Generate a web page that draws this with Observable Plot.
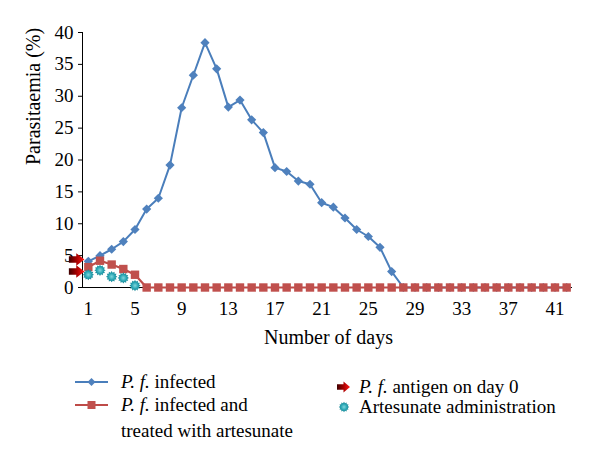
<!DOCTYPE html>
<html>
<head>
<meta charset="utf-8">
<script src="https://cdn.jsdelivr.net/npm/d3@7"></script>
<script src="https://cdn.jsdelivr.net/npm/@observablehq/plot@0.6"></script>
<style>
  html, body { margin: 0; padding: 0; background: #fff; }
  #wrap { position: relative; width: 600px; height: 466px; font-family: "Liberation Serif", "DejaVu Serif", serif; color: #000; }
  .lg { position: absolute; font-family: "Liberation Serif", "DejaVu Serif", serif; font-size: 19px; line-height: 20px; white-space: nowrap; }
  .ic { position: absolute; }
</style>
</head>
<body>
<div id="wrap"></div>
<script>
// ---- data ----
const days = [1,2,3,4,5,6,7,8,9,10,11,12,13,14,15,16,17,18,19,20,21,22,23,24,25,26,27,28,29,30,31,32,33,34,35,36,37,38,39,40,41,42];
const infected = [4.1,5.0,6.0,7.2,9.1,12.3,14.0,19.2,28.2,33.3,38.4,34.3,28.3,29.4,26.3,24.3,18.8,18.2,16.7,16.2,13.3,12.6,10.9,9.1,8.0,6.3,2.5,0,0,0,0,0,0,0,0,0,0,0,0,0,0,0];
const treated = [3.2,4.2,3.6,2.9,2.0,0,0,0,0,0,0,0,0,0,0,0,0,0,0,0,0,0,0,0,0,0,0,0,0,0,0,0,0,0,0,0,0,0,0,0,0,0];
const artesunateDays = [1,2,3,4,5];
const artesunateValues = [2.0,2.7,1.7,1.5,0.3];
const antigenDays = [0,0];
const antigenValues = [4.4,2.5];
const xTicks = [1,5,9,13,17,21,25,29,33,37,41];
const yTicks = [0,5,10,15,20,25,30,35,40];
const seriesNames = ["infected", "infected and", "treated with artesunate", "antigen on day 0", "Artesunate administration"];

const blueData = days.map((d, i) => ({day: d, value: infected[i]}));
const redData = days.map((d, i) => ({day: d, value: treated[i]}));
const tealData = artesunateDays.map((d, i) => ({day: d, value: artesunateValues[i]}));
const arrowData = antigenDays.map((d, i) => ({day: d, value: antigenValues[i]}));

// ---- custom symbols ----
const rad = s => Math.sqrt(s / Math.PI);
const diamondSym = {draw(c, s) { const r = rad(s); c.moveTo(0, -r); c.lineTo(r, 0); c.lineTo(0, r); c.lineTo(-r, 0); c.closePath(); }};
const squareSym = {draw(c, s) { const r = rad(s); c.rect(-r, -r, 2 * r, 2 * r); }};
const starSym = {draw(c, s) {
  const r = rad(s), n = 12, ri = r * 0.74;
  for (let k = 0; k < 2 * n; k++) {
    const a = Math.PI * k / n, rr = k % 2 ? ri : r;
    const px = rr * Math.sin(a), py = -rr * Math.cos(a);
    if (k === 0) c.moveTo(px, py); else c.lineTo(px, py);
  }
  c.closePath();
}};
const arrowSym = {draw(c, s) {
  const r = rad(s);
  c.moveTo(-r, -0.42 * r); c.lineTo(-0.05 * r, -0.42 * r); c.lineTo(-0.05 * r, -0.8 * r);
  c.lineTo(r, 0);
  c.lineTo(-0.05 * r, 0.8 * r); c.lineTo(-0.05 * r, 0.42 * r); c.lineTo(-r, 0.42 * r); c.closePath();
}};

const BLUE = "#4F81BD", BLUE_LINE = "#4A7EBB", RED = "#C0504D", RED_LINE = "#BE4B48";
const FONT = "'Liberation Serif', 'DejaVu Serif', serif";

const chart = Plot.plot({
  width: 600,
  height: 360,
  marginLeft: 82,
  marginRight: 28,
  marginTop: 32,
  marginBottom: 73,
  x: {domain: [0.5, 42.5], axis: null},
  y: {domain: [0, 40], axis: null},
  style: {fontFamily: FONT, color: "#000", background: "#fff"},
  marks: [
    Plot.axisY({ticks: yTicks, tickSize: 4, tickPadding: 5, fontSize: 19, label: null, stroke: "#000"}),
    Plot.axisX({ticks: xTicks, tickSize: 0, tickPadding: 14, fontSize: 19, label: null}),
    Plot.ruleX([0.5], {stroke: "#000", strokeWidth: 1}),
    Plot.ruleY([0], {stroke: "#000", strokeWidth: 1}),
    Plot.line(blueData, {x: "day", y: "value", stroke: BLUE_LINE, strokeWidth: 2}),
    Plot.dot(blueData, {x: "day", y: "value", symbol: diamondSym, r: 4.6, fill: BLUE, stroke: "none"}),
    Plot.line(redData, {x: "day", y: "value", stroke: RED_LINE, strokeWidth: 2.2}),
    Plot.dot(redData, {x: "day", y: "value", symbol: squareSym, r: 4.2, fill: RED, stroke: "none"}),
    Plot.dot(tealData, {x: "day", y: "value", symbol: starSym, r: 5.6, fill: "url(#tealGrad)", stroke: "none"}),
    Plot.dot(arrowData, {x: "day", y: "value", symbol: arrowSym, r: 7.8, fill: "url(#arrowGrad)", stroke: "none"}),
    Plot.text(["Parasitaemia (%)"], {frameAnchor: "left", rotate: -90, dx: -49, dy: 5, fontSize: 20, fill: "#000"}),
    Plot.text(["Number of days"], {frameAnchor: "bottom", dy: 56, dx: 1, fontSize: 20, fill: "#000"})
  ]
});

const defs = d3.select(chart).insert("defs", ":first-child");
const lg = defs.append("linearGradient").attr("id", "arrowGrad").attr("x1", 0).attr("x2", 1).attr("y1", 0).attr("y2", 0);
lg.append("stop").attr("offset", 0).attr("stop-color", "#3d0000");
lg.append("stop").attr("offset", 0.5).attr("stop-color", "#a80000");
lg.append("stop").attr("offset", 1).attr("stop-color", "#ff1a1a");
const rg = defs.append("radialGradient").attr("id", "tealGrad");
rg.append("stop").attr("offset", 0).attr("stop-color", "#7fd6dc");
rg.append("stop").attr("offset", 0.55).attr("stop-color", "#2aa6b4");
rg.append("stop").attr("offset", 1).attr("stop-color", "#137f8e");

const wrap = document.getElementById("wrap");
chart.style.position = "absolute";
chart.style.left = "0px";
chart.style.top = "0px";
wrap.appendChild(chart);

// ---- legend (HTML below the SVG) ----
function addText(html, left, cy) {
  const d = document.createElement("div");
  d.className = "lg";
  d.style.left = left + "px";
  d.style.top = (cy - 10) + "px";
  d.innerHTML = html;
  wrap.appendChild(d);
}
function addIcon(svgInner, left, top, w, h) {
  const d = document.createElement("div");
  d.className = "ic";
  d.style.left = left + "px";
  d.style.top = top + "px";
  d.innerHTML = `<svg width="${w}" height="${h}" viewBox="0 0 ${w} ${h}">${svgInner}</svg>`;
  wrap.appendChild(d);
}
const pf = "<i>P. f.</i>";
addIcon(`<line x1="0" y1="7" x2="33" y2="7" stroke="${BLUE_LINE}" stroke-width="2"/><path d="M16.5,3 L20.5,7 L16.5,11 L12.5,7 Z" fill="${BLUE}"/>`, 75, 375, 33, 14);
addText(`${pf} ${seriesNames[0]}`, 121, 382);
addIcon(`<line x1="0" y1="7" x2="33" y2="7" stroke="${RED_LINE}" stroke-width="2"/><rect x="12.5" y="3" width="8" height="8" fill="${RED}"/>`, 75, 398, 33, 14);
addText(`${pf} ${seriesNames[1]}`, 121, 405);
addText(seriesNames[2], 121, 431);
addIcon(`<path d="M1,4.3 L7.5,4.3 L7.5,1.5 L14,7 L7.5,12.5 L7.5,9.7 L1,9.7 Z" fill="url(#arrowGrad)"/>`, 336, 380, 15, 14);
addText(`${pf} ${seriesNames[3]}`, 359, 387);
(function(){
  const n = 12, r = 5.2, ri = 3.9; let p = "";
  for (let k = 0; k < 2 * n; k++) { const a = Math.PI * k / n, rr = k % 2 ? ri : r; p += (k ? "L" : "M") + (7 + rr * Math.sin(a)).toFixed(2) + "," + (7 - rr * Math.cos(a)).toFixed(2); }
  addIcon(`<path d="${p}Z" fill="url(#tealGrad)"/>`, 337, 400, 14, 14);
})();
addText(seriesNames[4], 359, 407);
</script>
</body>
</html>
